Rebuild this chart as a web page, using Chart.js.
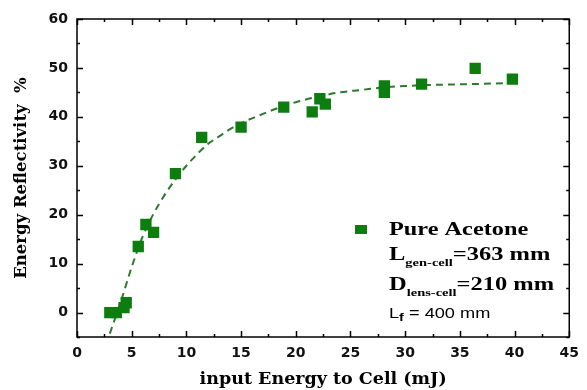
<!DOCTYPE html>
<html>
<head>
<meta charset="utf-8">
<script src="https://cdn.jsdelivr.net/npm/chart.js@4.4.0/dist/chart.umd.min.js"></script>
<style>
html, body { margin: 0; padding: 0; background: #fff; }
#wrap { width: 587px; height: 390px; position: relative; }
</style>
</head>
<body>
<div id="wrap"><canvas id="reflChart"></canvas></div>
<script>
// measured points (input energy mJ, reflectivity %)
var energyX  = [3.0, 3.6, 4.3, 4.5, 5.6, 6.3, 7.0, 9.0, 11.4, 15.0, 18.9, 21.5, 22.2, 22.7, 28.1, 28.1, 31.5, 36.4, 39.8];
var reflectY = [0.0, 0.0, 1.0, 2.0, 13.5, 18.0, 16.4, 28.4, 35.8, 37.9, 42.0, 41.0, 43.7, 42.6, 46.3, 45.0, 46.7, 49.9, 47.7];

// dashed fit curve
var fitX = [3.0, 4, 5, 6, 7, 8, 9, 10, 11, 12, 13, 14, 15, 16, 17, 18, 20, 22, 24, 26, 28, 30, 32, 34, 36, 38, 39.7];
var fitY = [-4.3, 2.2, 9.3, 15.5, 20.2, 24.0, 27.2, 30.0, 32.4, 34.5, 36.0, 37.5, 38.7, 39.7, 40.6, 41.5, 43.0, 44.1, 45.0, 45.5, 46.0, 46.3, 46.5, 46.6, 46.7, 46.8, 46.9];

var xTicks = [0, 5, 10, 15, 20, 25, 30, 35, 40, 45];
var xMinor = [2.5, 7.5, 12.5, 17.5, 22.5, 27.5, 32.5, 37.5, 42.5];
var yTicks = [0, 10, 20, 30, 40, 50, 60];
var yMinor = [-5, 5, 15, 25, 35, 45, 55];

var seriesName = 'Pure Acetone';
var legendRows = [
    { main: 'L', sub: 'gen-cell', rest: '=363 mm' },
    { main: 'D', sub: 'lens-cell', rest: '=210 mm' }
];
var focalRow = { main: 'L', sub: 'f', rest: ' = 400 mm' };

var green = '#0d7d10';
var serif = '"Liberation Serif", "Times New Roman", serif';
var sans = '"Liberation Sans", Arial, sans-serif';

// inside tick marks on all four sides + frame
var frameTicks = {
    id: 'frameTicks',
    afterDraw: function(chart) {
        var c = chart.ctx, a = chart.chartArea;
        var xs = chart.scales.x, ys = chart.scales.y;
        c.save();
        c.strokeStyle = '#000';
        c.lineWidth = 1.5;
        c.strokeRect(a.left, a.top, a.right - a.left, a.bottom - a.top);
        function xt(v, len) {
            var p = Math.round(xs.getPixelForValue(v)) + 0.5;
            c.beginPath();
            c.moveTo(p, a.bottom); c.lineTo(p, a.bottom - len);
            c.moveTo(p, a.top); c.lineTo(p, a.top + len);
            c.stroke();
        }
        function yt(v, len) {
            var p = Math.round(ys.getPixelForValue(v)) + 0.5;
            c.beginPath();
            c.moveTo(a.left, p); c.lineTo(a.left + len, p);
            c.moveTo(a.right, p); c.lineTo(a.right - len, p);
            c.stroke();
        }
        xTicks.forEach(function(v) { xt(v, 6); });
        xMinor.forEach(function(v) { xt(v, 3); });
        yTicks.forEach(function(v) { yt(v, 6); });
        yMinor.forEach(function(v) { yt(v, 3); });
        c.restore();
    }
};

// legend block with subscripts
var legendBlock = {
    id: 'legendBlock',
    afterDraw: function(chart) {
        var c = chart.ctx;
        var tx = 389;
        c.save();
        c.fillStyle = green;
        c.fillRect(355, 225, 12, 9);
        c.fillStyle = '#000';
        c.textBaseline = 'alphabetic';
        c.textAlign = 'left';

        function stretched(text, x, y, font, sx) {
            c.save();
            c.font = font;
            c.translate(x, y);
            c.scale(sx, 1);
            c.fillText(text, 0, 0);
            var w = c.measureText(text).width * sx;
            c.restore();
            return w;
        }

        stretched(seriesName, tx, 235, 'bold 18px ' + serif, 1.35);

        var baseY = [260, 290];
        legendRows.forEach(function(r, i) {
            var x = tx;
            x += stretched(r.main, x, baseY[i], 'bold 18px ' + serif, 1.36);
            x += stretched(r.sub, x, baseY[i] + 6, 'bold 10.5px ' + serif, 1.38);
            stretched(r.rest, x, baseY[i], 'bold 18px ' + serif, 1.36);
        });

        var x = tx;
        x += stretched(focalRow.main, x, 318, '14px ' + sans, 1.3);
        x += stretched(focalRow.sub, x, 321, 'bold 11px ' + sans, 1.3);
        stretched(focalRow.rest, x, 318, '14px ' + sans, 1.3);
        c.restore();
    }
};

new Chart(document.getElementById('reflChart'), {
    type: 'scatter',
    data: {
        datasets: [
            {
                label: seriesName,
                data: energyX.map(function(x, i) { return { x: x, y: reflectY[i] }; }),
                backgroundColor: green,
                borderColor: green,
                borderWidth: 0,
                pointStyle: 'rect',
                pointRadius: 8,
                order: 1
            },
            {
                label: 'fit',
                type: 'line',
                data: fitX.map(function(x, i) { return { x: x, y: fitY[i] }; }),
                borderColor: '#2d7a2d',
                borderWidth: 2,
                borderDash: [7, 5],
                pointRadius: 0,
                cubicInterpolationMode: 'monotone',
                fill: false,
                order: 2
            }
        ]
    },
    options: {
        responsive: true,
        maintainAspectRatio: false,
        animation: false,
        layout: { padding: { top: 19, right: 16, left: 0, bottom: 0 } },
        plugins: {
            legend: { display: false },
            tooltip: { enabled: false }
        },
        scales: {
            x: {
                type: 'linear',
                min: 0, max: 45,
                afterBuildTicks: function(s) { s.ticks = xTicks.map(function(v) { return { value: v }; }); },
                afterFit: function(s) { s.height = 53; },
                grid: { display: false, drawTicks: false },
                border: { display: false },
                ticks: { padding: 8, color: '#111', font: { family: '"DejaVu Sans"', weight: 'bold', size: 14 } },
                title: { display: true, text: 'input Energy to Cell (mJ)', color: '#000', padding: { top: 0, bottom: 0 },
                         font: { family: '"DejaVu Serif"', weight: 'bold', size: 17.5 } }
            },
            y: {
                type: 'linear',
                min: -5, max: 60,
                afterBuildTicks: function(s) { s.ticks = yTicks.map(function(v) { return { value: v }; }); },
                afterFit: function(s) { s.width = 77; },
                grid: { display: false, drawTicks: false },
                border: { display: false },
                ticks: { padding: 9, color: '#111', font: { family: '"DejaVu Sans"', weight: 'bold', size: 14 } },
                title: { display: true, text: 'Energy Reflectivity  %', color: '#000', padding: { top: 12, bottom: 0 },
                         font: { family: '"DejaVu Serif"', weight: 'bold', size: 16.5 } }
            }
        }
    },
    plugins: [frameTicks, legendBlock]
});
</script>
</body>
</html>
